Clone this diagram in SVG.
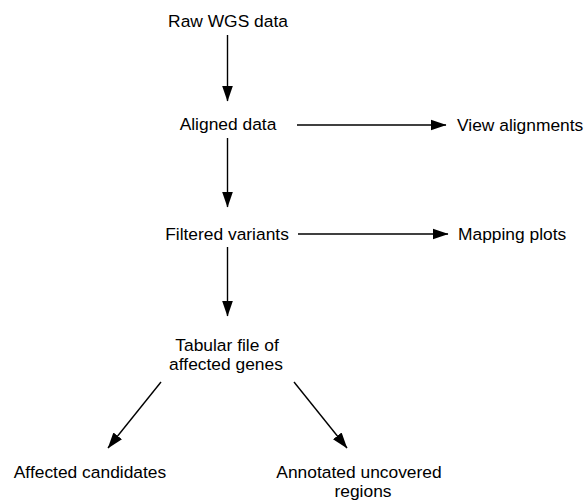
<svg xmlns="http://www.w3.org/2000/svg" width="586" height="500" viewBox="0 0 586 500">
  <defs>
    <style>
      .lbl { font-family: "Liberation Sans", Arial, sans-serif; font-size: 17.4px; fill: #000; }
      .mid { text-anchor: middle; }
      .edge { stroke: #000; stroke-width: 1.4; fill: none; marker-end: url(#head); }
    </style>
    <marker id="head" markerUnits="userSpaceOnUse" markerWidth="16" markerHeight="12" viewBox="0 0 16 12" refX="15.5" refY="6" orient="auto">
      <path d="M0,0.5 L16,6 L0,11.5 Z" fill="#000"/>
    </marker>
  </defs>

  <rect width="586" height="500" fill="#fff"/>

  <!-- connectors -->
  <g id="connectors">
    <line class="edge" x1="227.5" y1="35" x2="227.5" y2="101"/>
    <line class="edge" x1="227.5" y1="138" x2="227.5" y2="207"/>
    <line class="edge" x1="227.5" y1="247" x2="227.5" y2="316"/>
    <line class="edge" x1="297" y1="125" x2="446" y2="125"/>
    <line class="edge" x1="298" y1="234" x2="448" y2="234"/>
    <line class="edge" x1="161" y1="382" x2="108" y2="448"/>
    <line class="edge" x1="294" y1="382" x2="347" y2="448"/>
  </g>

  <!-- nodes -->
  <g id="raw">
    <text class="lbl mid" x="228" y="27">Raw WGS data</text>
  </g>
  <g id="aligned">
    <text class="lbl mid" x="228" y="130">Aligned data</text>
  </g>
  <g id="view">
    <text class="lbl" x="457" y="131">View alignments</text>
  </g>
  <g id="filtered">
    <text class="lbl mid" x="227" y="240">Filtered variants</text>
  </g>
  <g id="mapping">
    <text class="lbl" x="458" y="240">Mapping plots</text>
  </g>
  <g id="tabular">
    <text class="lbl mid" x="227" y="351">Tabular file of</text>
    <text class="lbl mid" x="226" y="370">affected genes</text>
  </g>
  <g id="candidates">
    <text class="lbl mid" x="90" y="478">Affected candidates</text>
  </g>
  <g id="uncovered">
    <text class="lbl mid" x="359" y="478">Annotated uncovered</text>
    <text class="lbl mid" x="363" y="497">regions</text>
  </g>
</svg>
